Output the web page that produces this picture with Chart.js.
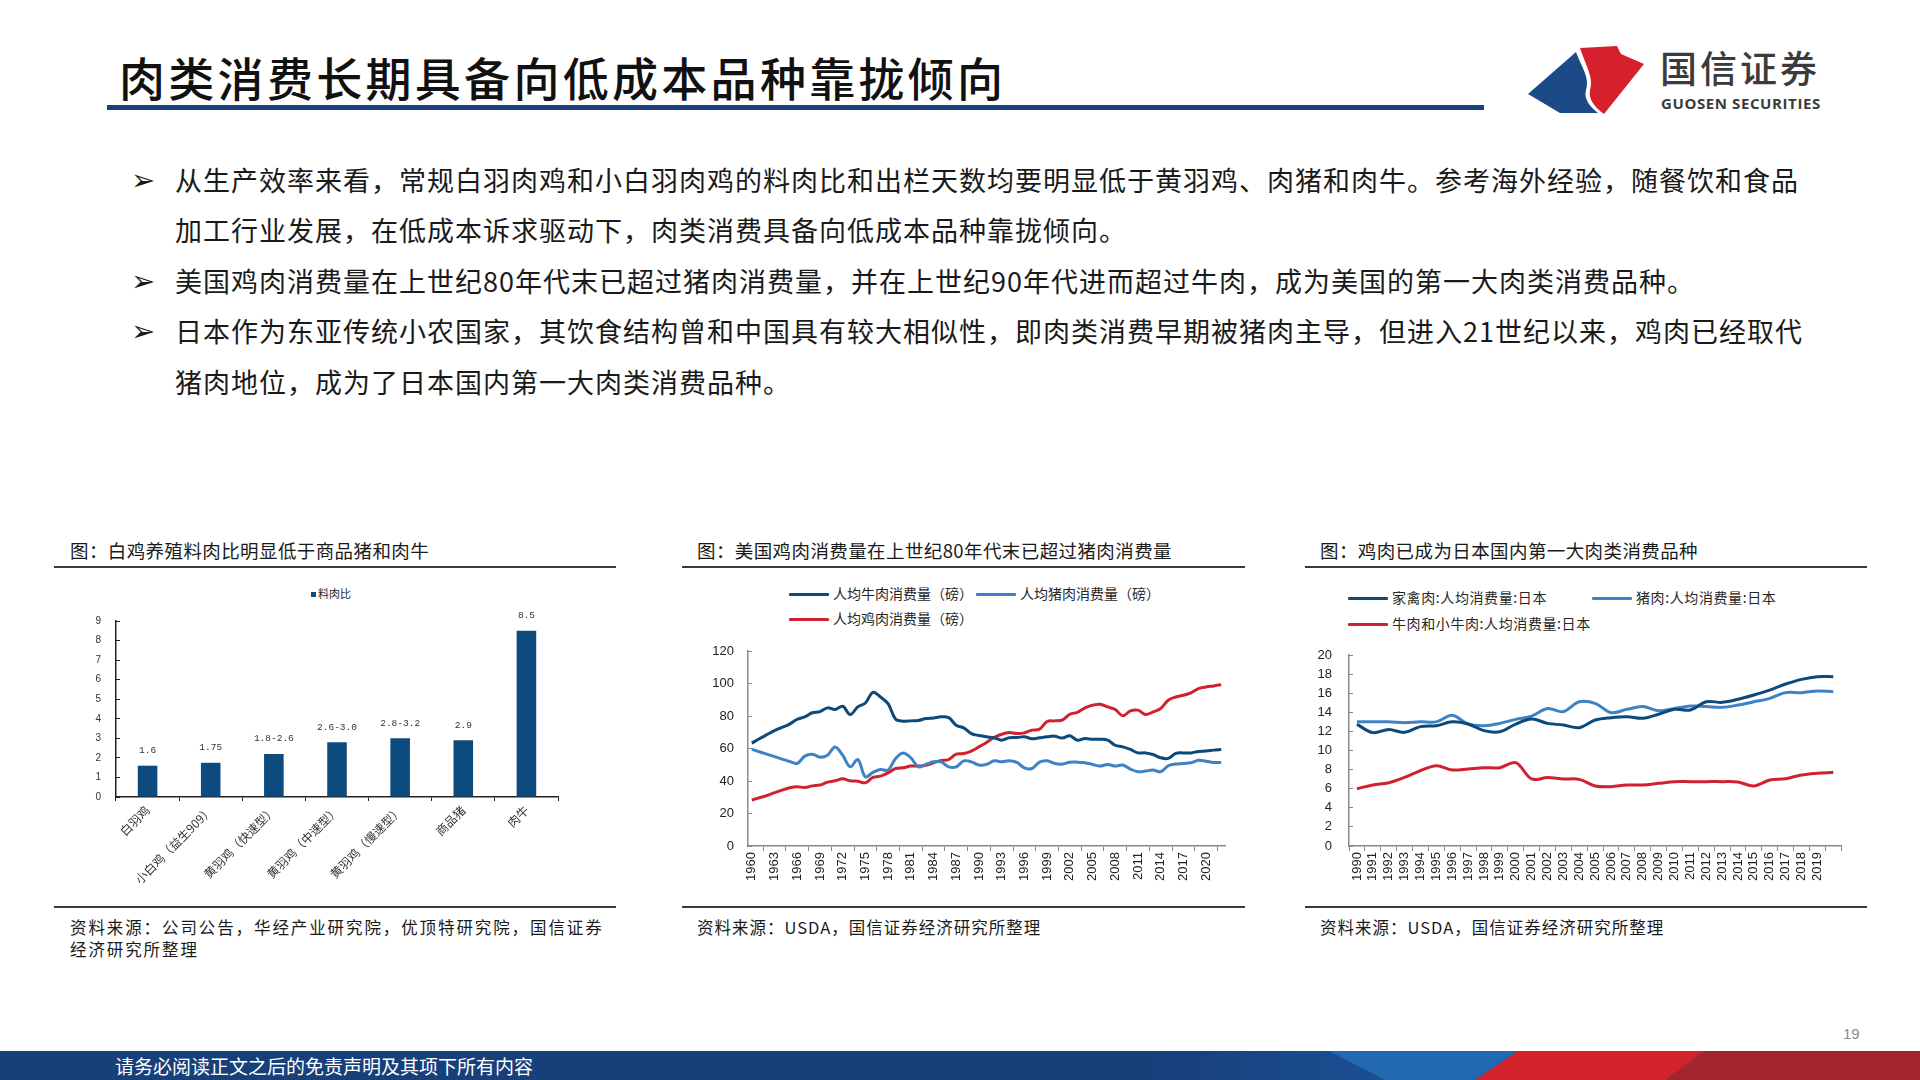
<!DOCTYPE html>
<html>
<head>
<meta charset="utf-8">
<script src="https://cdn.jsdelivr.net/npm/chart.js@4.4.1/dist/chart.umd.min.js"></script>
<style>
  html, body { margin: 0; padding: 0; }
  body { width: 1920px; height: 1080px; position: relative; overflow: hidden; background: #fff;
         font-family: "Noto Sans CJK SC", "Noto Sans", sans-serif; color: #1f1f1f; }
  .abs { position: absolute; white-space: nowrap; }
  .title { left: 119px; top: 46px; font-size: 46px; line-height: 60px; letter-spacing: 3.3px; font-weight: 500; color: #111; }
  .title-bar { left: 107px; top: 105px; width: 1377px; height: 5px; background: #1a3f7d; }
  .bullets { left: 132px; top: 155px; font-size: 27px; line-height: 50.4px; letter-spacing: 1px; color: #1a1a1a; }
  .bullets .arrow { position: absolute; left: -1px; font-family: "DejaVu Sans"; font-size: 29px; font-weight: bold; }
  .bullets .txt { position: absolute; left: 43px; }
  .ptitle { font-size: 18.5px; line-height: 24px; top: 538px; letter-spacing: 0.4px; color: #1a1a1a; }
  .rule { height: 1.6px; background: #3a3a3a; }
  .src { font-size: 16.5px; line-height: 22px; top: 916px; letter-spacing: 1px; color: #1a1a1a; }
  .leg { font-size: 14px; line-height: 18px; color: #262626; }
  .leg .ln { display: inline-block; width: 40px; height: 3px; vertical-align: middle; margin-right: 4px; position: relative; top: -1px; border-radius: 1px; }
  .box { position: absolute; }
  .footer { left: 0; top: 1051px; width: 1920px; height: 29px; background: linear-gradient(to right, #173f7a 0%, #173f7a 60%, #1b4f92 72%, #1f5ea6 78%); overflow: hidden; }
  .footer .txt { position: absolute; left: 115px; top: 0; line-height: 29px; font-size: 19px; color: #fff; }
</style>
</head>
<body>

<div class="abs title">肉类消费长期具备向低成本品种靠拢倾向</div>
<div class="abs title-bar"></div>

<svg class="abs" style="left:1520px;top:38px" width="135" height="82" viewBox="0 0 135 82">
  <path d="M56 14 C62 30, 70 40, 66 52 C63 62, 72 70, 78 75 L40 75 L8 56 Z" fill="#1b4a86"/>
  <path d="M60 10 L97 8 L101 16 L124 26 L84 76 C76 70, 68 62, 70 52 C74 40, 66 28, 60 10 Z" fill="#d6202d"/>
</svg>
<div class="abs" style="left:1660px;top:44px;font-size:37px;line-height:46px;letter-spacing:3px;color:#3b3b3b;font-weight:500">国信证券</div>
<div class="abs" style="left:1661px;top:93px;font-size:15px;line-height:20px;letter-spacing:0.6px;color:#3b3b3b;font-weight:700;font-family:'Open Sans','Noto Sans',sans-serif">GUOSEN SECURITIES</div>

<div class="abs bullets">
  <div class="arrow" style="top:0">➢</div>
  <div class="txt" style="top:0">从生产效率来看，常规白羽肉鸡和小白羽肉鸡的料肉比和出栏天数均要明显低于黄羽鸡、肉猪和肉牛。参考海外经验，随餐饮和食品<br>加工行业发展，在低成本诉求驱动下，肉类消费具备向低成本品种靠拢倾向。</div>
  <div class="arrow" style="top:100.8px">➢</div>
  <div class="txt" style="top:100.8px">美国鸡肉消费量在上世纪80年代末已超过猪肉消费量，并在上世纪90年代进而超过牛肉，成为美国的第一大肉类消费品种。</div>
  <div class="arrow" style="top:151.2px">➢</div>
  <div class="txt" style="top:151.2px">日本作为东亚传统小农国家，其饮食结构曾和中国具有较大相似性，即肉类消费早期被猪肉主导，但进入21世纪以来，鸡肉已经取代<br>猪肉地位，成为了日本国内第一大肉类消费品种。</div>
</div>

<!-- panel titles and rules -->
<div class="abs ptitle" style="left:70px">图：白鸡养殖料肉比明显低于商品猪和肉牛</div>
<div class="abs ptitle" style="left:697px">图：美国鸡肉消费量在上世纪80年代末已超过猪肉消费量</div>
<div class="abs ptitle" style="left:1320px">图：鸡肉已成为日本国内第一大肉类消费品种</div>
<div class="abs rule" style="left:54px;top:566px;width:562px"></div>
<div class="abs rule" style="left:682px;top:566px;width:563px"></div>
<div class="abs rule" style="left:1305px;top:566px;width:562px"></div>
<div class="abs rule" style="left:54px;top:906px;width:562px"></div>
<div class="abs rule" style="left:682px;top:906px;width:563px"></div>
<div class="abs rule" style="left:1305px;top:906px;width:562px"></div>
<div class="abs src" style="left:70px;letter-spacing:1.9px">资料来源：公司公告，华经产业研究院，优顶特研究院，国信证券<br>经济研究所整理</div>
<div class="abs src" style="left:697px">资料来源：USDA，国信证券经济研究所整理</div>
<div class="abs src" style="left:1320px">资料来源：USDA，国信证券经济研究所整理</div>

<!-- legends -->
<div class="abs leg" style="left:311px;top:584px;font-size:11px"><span style="display:inline-block;width:5px;height:5px;background:#0d4a7d;vertical-align:middle;margin-right:2px;position:relative;top:-1px"></span>料肉比</div>
<div class="abs leg" style="left:789px;top:584px"><span class="ln" style="background:#0b4a7a"></span>人均牛肉消费量（磅）</div>
<div class="abs leg" style="left:976px;top:584px"><span class="ln" style="background:#3d82c4"></span>人均猪肉消费量（磅）</div>
<div class="abs leg" style="left:789px;top:609px"><span class="ln" style="background:#d1202f"></span>人均鸡肉消费量（磅）</div>
<div class="abs leg" style="left:1348px;top:588px;letter-spacing:0.6px"><span class="ln" style="background:#0b4a7a"></span>家禽肉:人均消费量:日本</div>
<div class="abs leg" style="left:1592px;top:588px;letter-spacing:0.6px"><span class="ln" style="background:#3d82c4"></span>猪肉:人均消费量:日本</div>
<div class="abs leg" style="left:1348px;top:614px;letter-spacing:0.6px"><span class="ln" style="background:#d1202f"></span>牛肉和小牛肉:人均消费量:日本</div>

<div class="box" style="left:60px;top:610px;width:504px;height:290px"><canvas id="c1"></canvas></div>
<div class="box" style="left:690px;top:640px;width:545px;height:260px"><canvas id="c2"></canvas></div>
<div class="box" style="left:1290px;top:645px;width:560px;height:255px"><canvas id="c3"></canvas></div>

<div class="abs" style="left:1843px;top:1024px;font-size:15px;line-height:20px;color:#8c8c8c;font-family:'Liberation Sans'">19</div>

<div class="abs footer">
  <svg style="position:absolute;left:0;top:0" width="1920" height="29">
    <polygon points="1329,0 1518,0 1475,29 1385,29" fill="#2169b0"/>
    <polygon points="1518,0 1705,0 1665,29 1475,29" fill="#d2222c"/>
    <polygon points="1705,0 1920,0 1920,29 1665,29" fill="#a3262d"/>
  </svg>
  <div class="txt">请务必阅读正文之后的免责声明及其项下所有内容</div>
</div>

<script>
// chart 1: feed-to-meat ratio
const breedLabels = ['白羽鸡', '小白鸡（益生909）', '黄羽鸡（快速型）', '黄羽鸡（中速型）', '黄羽鸡（慢速型）', '商品猪', '肉牛'];
const ratioValues = [1.6, 1.75, 2.2, 2.8, 3.0, 2.9, 8.5];
const ratioLabels = ['1.6', '1.75', '1.8-2.6', '2.6-3.0', '2.8-3.2', '2.9', '8.5'];

// chart 2: US per-capita consumption (lb)
const usYears = [];
for (let y = 1960; y <= 2022; y++) usYears.push(String(y));
const usBeef = [63.3, 66, 68.5, 71, 73, 75, 78, 79.5, 82, 82.7, 85, 84, 86, 80.9, 85.6, 88, 94.6, 91.7, 87.6, 78,
  76.8, 77, 77.2, 78.4, 78.8, 79.5, 79, 74.3, 72.7, 69.2, 68, 67.2, 66.6, 65.1, 66.6, 66.8, 67.2, 66, 66.6, 67.2,
  67.6, 66.4, 67.8, 65.1, 66.1, 65.7, 65.7, 65.1, 62, 61, 59.4, 57.3, 57.3, 56.3, 54.3, 53.9, 57, 57.3, 57.3, 58.2,
  58.4, 59, 59.4];
const usPork = [59.6, 58, 56.5, 55, 53.5, 52, 50.8, 55.3, 56.5, 54.7, 55.9, 61, 55.9, 48.7, 53.2, 42.6, 45.3, 47.1, 46.7, 53.9,
  57.3, 54.3, 48.7, 50.2, 51.8, 51.8, 48.7, 48.7, 52.4, 51.8, 49.8, 50.2, 52.4, 51.8, 52.4, 51.4, 48.1, 47.7, 51.6, 52.4,
  50.8, 50.4, 51.6, 51.6, 51.2, 50.2, 49.2, 50.2, 49.2, 49.8, 47.3, 45.7, 46.1, 46.7, 45.7, 49.4, 50.4, 50.8, 51.2, 52.8,
  52.2, 51.4, 51.4];
const usChicken = [28.3, 29.7, 31.1, 32.8, 34.4, 35.8, 36.5, 36, 37, 37.5, 39.3, 40.1, 41.4, 40.1, 39.9, 38.9, 42.2, 43, 45, 47.7,
  48.1, 49.2, 49.2, 49.6, 51.2, 52.6, 53.2, 56.5, 56.9, 58.4, 61, 63.7, 66.8, 68.8, 69.8, 69.2, 69.6, 71.3, 71.9, 76.6,
  77, 77.4, 81.1, 82.3, 85, 86.6, 87.2, 85.6, 84, 80.1, 83.1, 83.6, 80.9, 82.5, 84.6, 89.7, 91.7, 92.8, 94.2, 96.9,
  97.9, 98.5, 99.3];

// chart 3: Japan per-capita consumption
const jpYears = [];
for (let y = 1990; y <= 2020; y++) jpYears.push(String(y));
const jpPoultry = [12.74, 11.87, 12.2, 11.9, 12.5, 12.6, 13.0, 12.77, 12.08, 11.97, 12.77, 13.3, 12.84, 12.67, 12.39, 13.19,
  13.44, 13.54, 13.37, 13.79, 14.31, 14.24, 15.11, 15.04, 15.36, 15.81, 16.33, 16.96, 17.45, 17.73, 17.73];
const jpPork = [13.0, 13.0, 13.0, 12.9, 13.0, 13.0, 13.7, 12.77, 12.6, 12.84, 13.26, 13.6, 14.4, 14.07, 15.1, 14.94,
  13.96, 14.31, 14.6, 14.17, 14.4, 14.66, 14.6, 14.52, 14.76, 15.1, 15.46, 16.06, 16.06, 16.23, 16.16];
const jpBeef = [6.0, 6.39, 6.63, 7.19, 7.89, 8.41, 7.96, 8.06, 8.2, 8.2, 8.73, 7.02, 7.16, 7.02, 6.98, 6.28,
  6.21, 6.39, 6.39, 6.56, 6.74, 6.74, 6.74, 6.74, 6.7, 6.28, 6.91, 7.05, 7.43, 7.61, 7.71];

Chart.defaults.font.family = '"Liberation Sans", "Noto Sans CJK SC", sans-serif';
Chart.defaults.color = '#222';
Chart.defaults.animation = false;

const NAVY = '#0b4a7a', BLUE = '#3d82c4', RED = '#d1202f';

const barValueLabels = {
  id: 'barValueLabels',
  afterDatasetsDraw(chart) {
    const ctx = chart.ctx;
    const meta = chart.getDatasetMeta(0);
    ctx.save();
    ctx.font = '9.5px "Liberation Mono", monospace';
    ctx.fillStyle = '#333';
    ctx.textAlign = 'center';
    ctx.textBaseline = 'middle';
    meta.data.forEach((bar, i) => ctx.fillText(ratioLabels[i], bar.x, bar.y - 15));
    ctx.restore();
  }
};

// fixed y-axis box: width set, no extra top/bottom padding from labels
const yFit = w => scale => { scale.width = w; scale.paddingTop = 0; scale.paddingBottom = 0; };

new Chart(document.getElementById('c1'), {
  type: 'bar',
  data: {
    labels: breedLabels,
    datasets: [{ label: '料肉比', data: ratioValues, backgroundColor: '#0d4a7d',
      categoryPercentage: 1, barPercentage: 0.31 }]
  },
  options: {
    responsive: true, maintainAspectRatio: false,
    layout: { padding: { top: 11, right: 6 } },
    plugins: { legend: { display: false }, tooltip: { enabled: false } },
    scales: {
      x: {
        grid: { drawOnChartArea: false, offset: true, tickLength: 4, color: '#222' },
        border: { color: '#222', width: 1.5 },
        ticks: { minRotation: 45, maxRotation: 45, autoSkip: false, padding: 2,
          font: { size: 12, family: '"Noto Sans CJK SC"' }, color: '#333' },
        afterFit(scale) { scale.height = 103; }
      },
      y: {
        min: 0, max: 9,
        grid: { drawOnChartArea: false, tickLength: -4, color: '#222' },
        border: { color: '#222', width: 1.5 },
        ticks: { stepSize: 1, autoSkip: false, padding: 19, font: { size: 10 }, color: '#333' },
        afterFit: yFit(56)
      }
    }
  },
  plugins: [barValueLabels]
});

function lineSet(label, data, color) {
  return { label, data, borderColor: color, backgroundColor: color, borderWidth: 3,
    pointRadius: 0, tension: 0.35, fill: false };
}

new Chart(document.getElementById('c2'), {
  type: 'line',
  data: {
    labels: usYears,
    datasets: [
      lineSet('人均牛肉消费量（磅）', usBeef, NAVY),
      lineSet('人均猪肉消费量（磅）', usPork, BLUE),
      lineSet('人均鸡肉消费量（磅）', usChicken, RED)
    ]
  },
  options: {
    responsive: true, maintainAspectRatio: false,
    layout: { padding: { top: 11, right: 10 } },
    plugins: { legend: { display: false }, tooltip: { enabled: false } },
    scales: {
      x: {
        offset: true,
        grid: { drawOnChartArea: false, offset: true, tickLength: 5, color: '#8a8a8a' },
        border: { color: '#8a8a8a', width: 1.5 },
        ticks: { minRotation: 90, maxRotation: 90, autoSkip: false, padding: 1,
          font: { size: 13 }, color: '#222',
          callback: (v, i) => (i % 3 === 0 ? usYears[i] : null) },
        afterFit(scale) { scale.height = 54; }
      },
      y: {
        min: 0, max: 120,
        grid: { drawOnChartArea: false, tickLength: -4, color: '#8a8a8a' },
        border: { color: '#8a8a8a', width: 1.5 },
        ticks: { stepSize: 20, autoSkip: false, padding: 18, font: { size: 13 }, color: '#222' },
        afterFit: yFit(58)
      }
    }
  }
});

new Chart(document.getElementById('c3'), {
  type: 'line',
  data: {
    labels: jpYears,
    datasets: [
      lineSet('家禽肉:人均消费量:日本', jpPoultry, NAVY),
      lineSet('猪肉:人均消费量:日本', jpPork, BLUE),
      lineSet('牛肉和小牛肉:人均消费量:日本', jpBeef, RED)
    ]
  },
  options: {
    responsive: true, maintainAspectRatio: false,
    layout: { padding: { top: 10, right: 6 } },
    plugins: { legend: { display: false }, tooltip: { enabled: false } },
    scales: {
      x: {
        offset: true,
        grid: { drawOnChartArea: false, offset: true, tickLength: 5, color: '#8a8a8a' },
        border: { color: '#8a8a8a', width: 1.5 },
        ticks: { minRotation: 90, maxRotation: 90, autoSkip: false, padding: 1,
          font: { size: 13 }, color: '#222',
          callback: (v, i) => (i < jpYears.length - 1 ? jpYears[i] : '') },
        afterFit(scale) { scale.height = 54; }
      },
      y: {
        min: 0, max: 20,
        grid: { drawOnChartArea: false, tickLength: -4, color: '#8a8a8a' },
        border: { color: '#8a8a8a', width: 1.5 },
        ticks: { stepSize: 2, autoSkip: false, padding: 21, font: { size: 13 }, color: '#222' },
        afterFit: yFit(59)
      }
    }
  }
});
</script>
</body>
</html>
